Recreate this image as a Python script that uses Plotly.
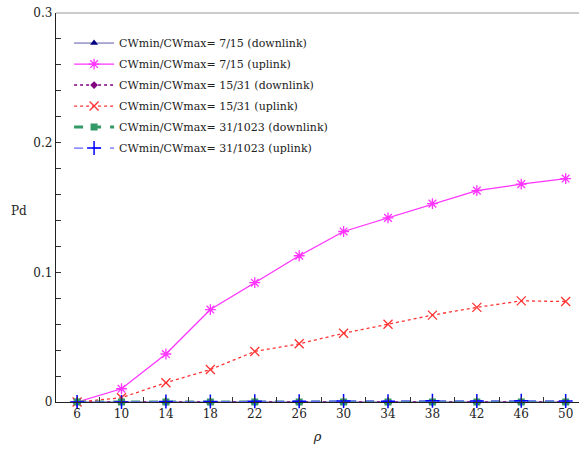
import plotly.graph_objects as go

rho = [6, 10, 14, 18, 22, 26, 30, 34, 38, 42, 46, 50]

dl_7_15 = [0.0, 0.0, 0.0, 0.0, 0.0, 0.0, 0.0, 0.0, 0.0, 0.0, 0.0, 0.0]
ul_7_15 = [0.0, 0.0102, 0.037, 0.0713, 0.092, 0.1128, 0.1315, 0.142, 0.153, 0.163, 0.168, 0.1723]
dl_15_31 = [0.0, 0.0, 0.0, 0.0, 0.0, 0.0, 0.0, 0.0, 0.0, 0.0, 0.0, 0.0]
ul_15_31 = [0.0, 0.0033, 0.0149, 0.025, 0.039, 0.0449, 0.053, 0.060, 0.067, 0.073, 0.078, 0.0775]
dl_31_1023 = [0.0, 0.0, 0.0, 0.0, 0.0, 0.0, 0.0, 0.0, 0.0, 0.0, 0.0, 0.0]
ul_31_1023 = [0.0, 0.0, 0.0003, 0.0003, 0.0005, 0.0005, 0.0008, 0.0006, 0.0009, 0.0008, 0.0009, 0.0008]

names = [
    "CWmin/CWmax= 7/15 (downlink)",
    "CWmin/CWmax= 7/15 (uplink)",
    "CWmin/CWmax= 15/31 (downlink)",
    "CWmin/CWmax= 15/31 (uplink)",
    "CWmin/CWmax= 31/1023 (downlink)",
    "CWmin/CWmax= 31/1023 (uplink)",
]

styles = [
    dict(line=dict(color="#5a5aa8", width=1, dash="solid"),
         marker=dict(symbol="triangle-up", color="#000080", size=7)),
    dict(line=dict(color="#ff33ff", width=1.3, dash="solid"),
         marker=dict(symbol="asterisk-open", color="#ff33ff", size=9, line=dict(width=1.3, color="#ff33ff"))),
    dict(line=dict(color="#800080", width=1.5, dash="dot"),
         marker=dict(symbol="diamond", color="#800080", size=6)),
    dict(line=dict(color="#ff3333", width=1.3, dash="dot"),
         marker=dict(symbol="x-thin-open", color="#ff3333", size=9, line=dict(width=1.3, color="#ff3333"))),
    dict(line=dict(color="#339966", width=3, dash="dash"),
         marker=dict(symbol="square", color="#339966", size=7)),
    dict(line=dict(color="#6666ff", width=1.3, dash="dash"),
         marker=dict(symbol="cross-thin-open", color="#0000ff", size=10, line=dict(width=1.5, color="#0000ff"))),
]

series = [dl_7_15, ul_7_15, dl_15_31, ul_15_31, dl_31_1023, ul_31_1023]

fig = go.Figure()
for i, (name, ys, st) in enumerate(zip(names, series, styles)):
    fig.add_trace(go.Scatter(x=rho, y=ys, name=name, mode="lines+markers",
                             legendgroup=f"g{i}",
                             line=st["line"], marker=st["marker"], cliponaxis=False))

font = dict(family="DejaVu Serif", size=11, color="#222222")
tfont = dict(family="DejaVu Serif", size=12, color="#222222")

fig.update_layout(
    width=579, height=461,
    margin=dict(l=56, r=0, t=13, b=59),
    paper_bgcolor="white", plot_bgcolor="white",
    font=font,
    showlegend=True,
    legend=dict(x=0.025, y=0.96, xanchor="left", yanchor="top",
                bgcolor="rgba(0,0,0,0)", font=font, tracegroupgap=2,
                itemwidth=40),
    xaxis=dict(range=[4.1, 51.2], tickmode="array", tickvals=rho,
               ticks="inside", ticklen=5, tickcolor="#333333",
               showline=True, linecolor="#222222", linewidth=1.3,
               showgrid=False, zeroline=False,
               minor=dict(tickmode="array", tickvals=[8, 12, 16, 20, 24, 28, 32, 36, 40, 44, 48],
                          ticks="inside", ticklen=5, tickcolor="#333333"),
               title=dict(text="<i>ρ</i>", standoff=12, font=dict(family="DejaVu Serif", size=13, color="#222222")),
               tickfont=tfont),
    yaxis=dict(range=[0, 0.3], tickmode="array", tickvals=[0, 0.1, 0.2, 0.3],
               ticktext=["0", "0.1", "0.2", "0.3"],
               ticks="inside", ticklen=5, tickcolor="#333333",
               showline=True, linecolor="#222222", linewidth=1.3,
               showgrid=False, zeroline=False,
               minor=dict(tickmode="array",
                          tickvals=[0.02, 0.04, 0.06, 0.08, 0.12, 0.14, 0.16, 0.18, 0.22, 0.24, 0.26, 0.28],
                          ticks="inside", ticklen=5, tickcolor="#333333"),
               tickfont=tfont),
)

fig.add_shape(type="line", xref="paper", yref="paper", x0=0, x1=1, y0=1, y1=1,
              line=dict(color="#bbbbbb", width=1.5))
fig.add_annotation(text="Pd", xref="paper", yref="paper", x=-0.07, y=0.49,
                   showarrow=False, font=tfont, xanchor="center")

fig.write_html("out.html")
